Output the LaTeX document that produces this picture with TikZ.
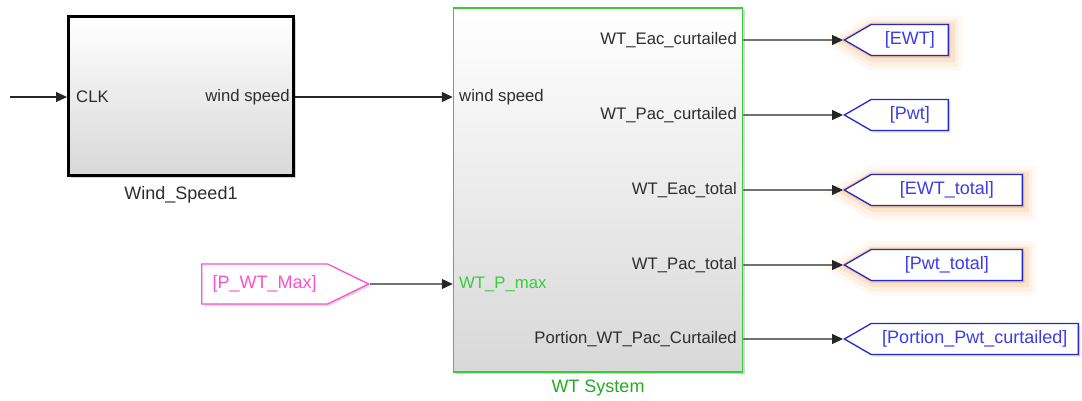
\documentclass[tikz,border=0pt]{standalone}
\usepackage{fontspec}
\setmainfont{Liberation Sans}
\usetikzlibrary{positioning,arrows.meta,shapes.symbols,shadows}
\definecolor{PortText}{RGB}{45,45,45}
\definecolor{SysGreen}{RGB}{55,205,55}
\definecolor{SysLabel}{RGB}{35,170,35}
\definecolor{GotoBlue}{RGB}{40,40,200}
\definecolor{GotoText}{RGB}{60,60,235}
\definecolor{FromPink}{RGB}{255,80,205}
\definecolor{GlowOrange}{RGB}{240,160,80}
\definecolor{BlockBottom}{RGB}{216,216,216}

\begin{document}
\begin{tikzpicture}[
  x=1pt, y=-1pt,
  font=\fontsize{16.7}{19}\selectfont,
  >={Triangle[length=11pt,width=10pt]},
  block/.style={
    rectangle, draw=black, line width=3pt, inner sep=0pt,
    top color=white, middle color=white, bottom color=BlockBottom,
    drop shadow={shadow xshift=2pt, shadow yshift=-2pt, opacity=.35}
  },
  subsys/.style={block, draw=SysGreen, line width=1.5pt},
  port/.style={text=PortText, inner sep=0pt},
  caption/.style={font=\fontsize{18}{20}\selectfont, text=PortText},
  tagbase/.style={
    signal, draw, line width=1.3pt, fill=white, inner sep=0pt,
    font=\fontsize{18}{20}\selectfont,
    drop shadow={shadow xshift=2pt, shadow yshift=-2pt, opacity=.25}
  },
  goto/.style={tagbase, signal to=west, signal pointer angle=60,
    draw=GotoBlue, text=GotoText, minimum height=31pt},
  from/.style={tagbase, signal to=east, signal pointer angle=52,
    draw=FromPink, text=FromPink, minimum height=40pt},
  glow/.style={
    preaction={draw=GlowOrange, line width=24pt, draw opacity=.06,
      transform canvas={shift={(2pt,-3pt)}}},
    preaction={draw=GlowOrange, line width=16pt, draw opacity=.1,
      transform canvas={shift={(2pt,-3pt)}}},
    preaction={draw=GlowOrange, line width=9pt, draw opacity=.16,
      transform canvas={shift={(2pt,-2pt)}}},
    preaction={draw=GlowOrange, line width=4pt, draw opacity=.25}
  },
  wire/.style={->, line width=1.2pt, draw=black!85}
]
\useasboundingbox (0,0) rectangle (1082,400);

% Wind speed source block
\node[block, minimum width=225pt, minimum height=159pt] (wind) at (181,96) {};
\node[caption, below=6pt of wind] (windlbl) {Wind\_Speed1};
\node[port, anchor=west] (clk) at (76,97) {CLK};
\node[port, anchor=east] (wsout) at (290,97) {wind speed};
\coordinate (clkin) at (10,97);

% Wind turbine subsystem
\node[subsys, minimum width=289pt, minimum height=364pt] (wt) at (598,190) {};
\node[caption, text=SysLabel, below=4pt of wt] (wtlbl) {WT System};
\node[port, anchor=west] (wsin) at (459,97) {wind speed};
\node[port, anchor=west, text=SysGreen] (pmax) at (459,284) {WT\_P\_max};
\node[port, anchor=east] (eacc) at (737,40) {WT\_Eac\_curtailed};
\node[port, anchor=east] (pacc) at (737,115) {WT\_Pac\_curtailed};
\node[port, anchor=east] (eact) at (737,190) {WT\_Eac\_total};
\node[port, anchor=east] (pact) at (737,265) {WT\_Pac\_total};
\node[port, anchor=east] (portion) at (737,339) {Portion\_WT\_Pac\_Curtailed};

% From / Goto tags
\node[from, minimum width=167pt, anchor=west] (fpmax) at (201,284) {[P\_WT\_Max]};
\node[goto, glow, minimum width=104pt, anchor=east] (gewt) at (949,40) {[EWT]};
\node[goto, minimum width=104pt, anchor=east] (gpwt) at (949,115) {[Pwt]};
\node[goto, glow, minimum width=178pt, anchor=east] (gewtt) at (1023,190) {[EWT\_total]};
\node[goto, glow, minimum width=178pt, anchor=east] (gpwtt) at (1023,265) {[Pwt\_total]};
\node[goto, minimum width=234pt, anchor=east] (gportion) at (1079,339) {[Portion\_Pwt\_curtailed]};

% --- wires ---
\draw[wire] (clkin) -- (wind.west |- clkin);
\draw[wire] (wind.east |- wsout) -- (wt.west |- wsin);
\draw[wire] (fpmax) -- (wt.west |- pmax);
\draw[wire] (wt.east |- eacc) -- (gewt);
\draw[wire] (wt.east |- pacc) -- (gpwt);
\draw[wire] (wt.east |- eact) -- (gewtt);
\draw[wire] (wt.east |- pact) -- (gpwtt);
\draw[wire] (wt.east |- portion) -- (gportion);

\end{tikzpicture}
\end{document}
